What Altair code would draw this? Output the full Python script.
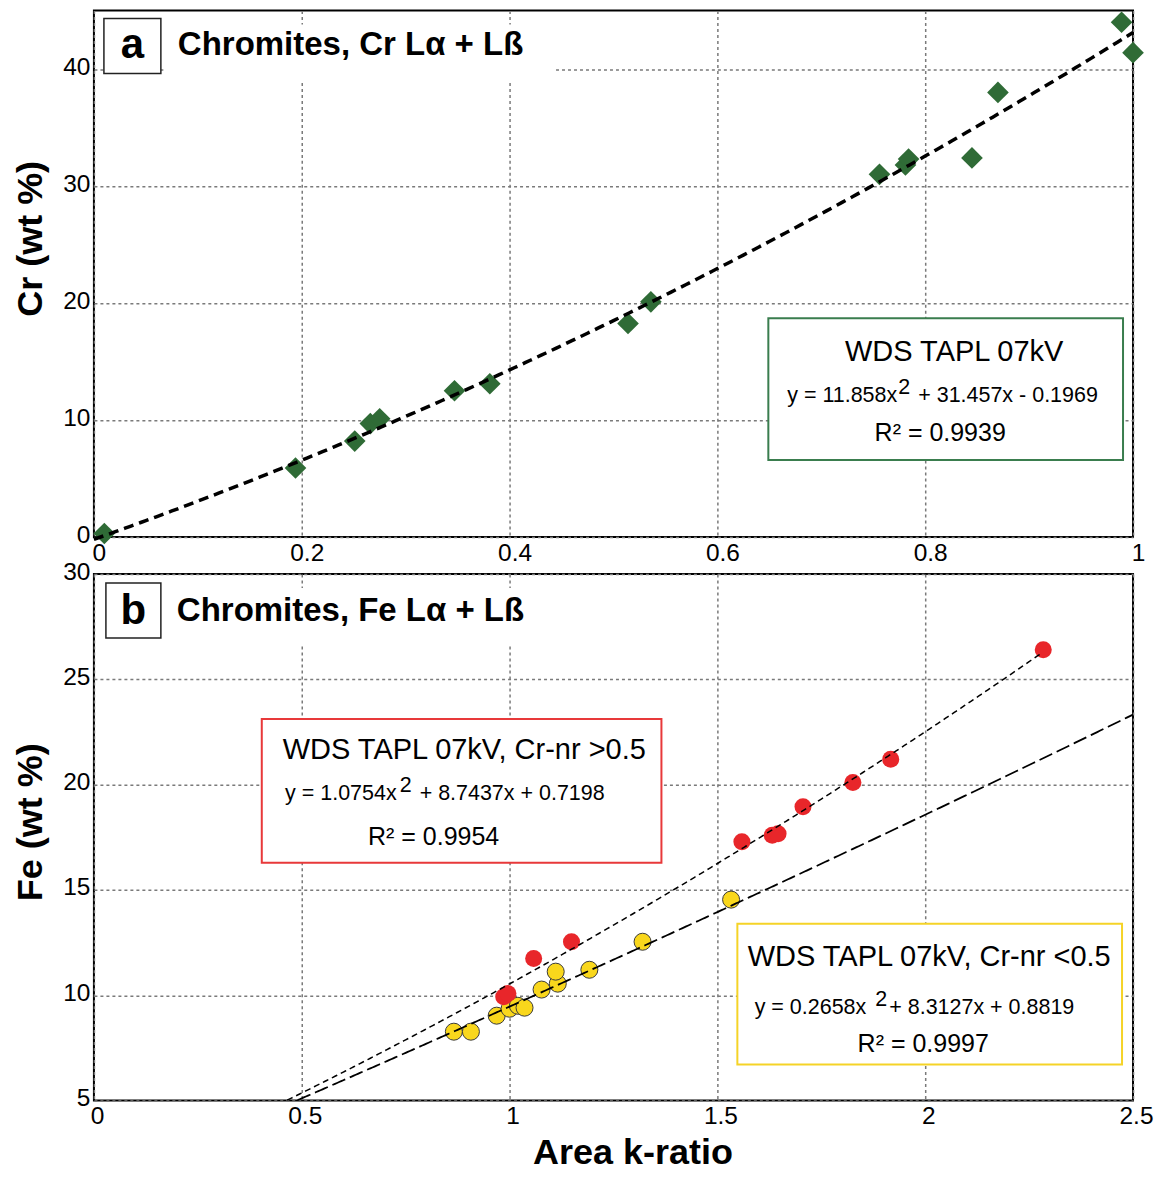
import altair as alt
import pandas as pd

# ---------------- data ----------------
# Panel a: chromites, Cr La + Lb
cr_kratio = [0.010, 0.194, 0.251, 0.266, 0.275, 0.347, 0.381, 0.514, 0.536,
             0.756, 0.781, 0.784, 0.845, 0.870, 0.989, 1.000]
cr_wt = [0.3, 5.9, 8.2, 9.7, 10.1, 12.5, 13.1, 18.25, 20.1,
         31.0, 31.8, 32.3, 32.4, 38.0, 44.0, 41.4]
cr_fit = [11.858, 31.457, -0.1969]          # y = a x^2 + b x + c
cr_fit_range = [0.0, 1.0]

# Panel b: chromites, Fe La + Lb
fe_hi_kratio = [0.986, 0.996, 1.058, 1.149, 1.559, 1.632, 1.646, 1.706, 1.826, 1.917, 2.284]
fe_hi_wt = [9.93, 10.08, 11.74, 12.54, 17.29, 17.6, 17.67, 18.95, 20.1, 21.2, 26.4]
fe_hi_fit = [1.0754, 8.7437, 0.7198]
fe_hi_range = [0.465, 2.284]

fe_lo_kratio = [0.866, 0.907, 0.969, 1.000, 1.020, 1.036, 1.077, 1.116, 1.111, 1.192, 1.320, 1.533]
fe_lo_wt = [8.27, 8.27, 9.03, 9.36, 9.50, 9.41, 10.27, 10.55, 11.12, 11.21, 12.54, 14.54]
fe_lo_fit = [0.2658, 8.3127, 0.8819]
fe_lo_range = [0.49, 2.5]

x_ticks_a = [0, 0.2, 0.4, 0.6, 0.8, 1.0]
y_ticks_a = [0, 10, 20, 30, 40]
x_ticks_b = [0, 0.5, 1, 1.5, 2, 2.5]
y_ticks_b = [5, 10, 15, 20, 25, 30]

FONT = "Liberation Sans"
W, H = 1040, 527
GREEN = "#2f6b36"
RED = "#e8262a"
YELLOW = "#f9d71c"


def axis(values, **kw):
    return alt.Axis(values=values, format="~g", grid=True, gridDash=[3, 3],
                    gridColor="#7a7a7a", gridWidth=1.5, ticks=False, domain=False,
                    labelFont=FONT, labelFontSize=24.5, labelColor="black",
                    labelFlush=False, labelOverlap=False,
                    titleFont=FONT, titleFontSize=36, titleFontWeight="bold",
                    titleColor="black", **kw)


def one():
    return alt.Chart(pd.DataFrame({"o": [0]}))


def text(s, x, y, size, align="center", baseline="middle", weight="normal"):
    return one().mark_text(font=FONT, fontSize=size, align=align, baseline=baseline,
                           fontWeight=weight, color="black").encode(
        x=alt.value(x), y=alt.value(y), text=alt.value(s))


def box(x0, y0, x1, y1, color, width=2):
    return one().mark_rect(fill="white", stroke=color, strokeWidth=width).encode(
        x=alt.value(x0), x2=alt.value(x1), y=alt.value(y0), y2=alt.value(y1))


def fit_line(coef, rng, dash, width):
    a, b, c = coef
    return alt.Chart(alt.sequence(rng[0], rng[1] + 1e-9, 0.005, as_="k")).transform_calculate(
        v=f"{a}*datum.k*datum.k + {b}*datum.k + {c}"
    ).mark_line(color="black", strokeDash=dash, strokeWidth=width)


# ---------------- panel a ----------------
xa = alt.Scale(domain=[0, 1], nice=False, zero=False)
ya = alt.Scale(domain=[0, 45], nice=False, zero=False)

df_a = pd.DataFrame({"k": cr_kratio, "cr": cr_wt})
pts_a = alt.Chart(df_a).mark_point(shape="diamond", filled=True, size=470,
                                   color=GREEN, opacity=1).encode(
    x=alt.X("k:Q", scale=xa, axis=axis(x_ticks_a, labelPadding=4, labelOffset=5), title=None),
    y=alt.Y("cr:Q", scale=ya, axis=axis(y_ticks_a, labelPadding=4, titlePadding=13,
                                        titleY=228, labelOffset=-2),
            title="Cr (wt %)"),
)
line_a = fit_line(cr_fit, cr_fit_range, [10, 6], 3.5).encode(
    x=alt.X("k:Q", scale=xa), y=alt.Y("v:Q", scale=ya))

panel_a = alt.layer(
    box(72, 14, 461, 70, "white", 0),
    box(10, 8, 67, 63, "#222222", 1.5),
    text("a", 38.5, 48, 42, baseline="alphabetic", weight="bold"),
    text("Chromites, Cr L\u03b1 + L\u00df", 84, 45, 33, align="left",
         baseline="alphabetic", weight="bold"),
    box(675, 308, 1030, 450, "#3a7d4e", 2),
    pts_a,
    line_a,
    text("WDS TAPL 07kV", 861, 342, 29),
    text("y = 11.858x", 804, 386, 21.5, align="right"),
    text("2", 811, 378, 21.5),
    text("+ 31.457x - 0.1969", 825, 386, 21.5, align="left"),
    text("R\u00b2 = 0.9939", 847, 423, 25),
).properties(width=W, height=H)

# ---------------- panel b ----------------
xb = alt.Scale(domain=[0, 2.5], nice=False, zero=False)
yb = alt.Scale(domain=[5, 30], nice=False, zero=False)

df_hi = pd.DataFrame({"k": fe_hi_kratio, "fe": fe_hi_wt})
df_lo = pd.DataFrame({"k": fe_lo_kratio, "fe": fe_lo_wt})

pts_lo = alt.Chart(df_lo).mark_circle(size=290, color=YELLOW, stroke="#3a3a3a",
                                      strokeWidth=1, opacity=1).encode(
    x=alt.X("k:Q", scale=xb,
            axis=axis(x_ticks_b, labelPadding=4, labelOffset=3, titlePadding=8, titleX=539),
            title="Area k-ratio"),
    y=alt.Y("fe:Q", scale=yb,
            axis=axis(y_ticks_b, labelPadding=4, titlePadding=13, titleY=248, labelOffset=-2),
            title="Fe (wt %)"),
)
pts_hi = alt.Chart(df_hi).mark_circle(size=290, color=RED, opacity=1).encode(
    x=alt.X("k:Q", scale=xb), y=alt.Y("fe:Q", scale=yb))
line_hi = fit_line(fe_hi_fit, fe_hi_range, [6, 4], 1.5).encode(
    x=alt.X("k:Q", scale=xb), y=alt.Y("v:Q", scale=yb))
line_lo = fit_line(fe_lo_fit, fe_lo_range, [14, 5], 1.8).encode(
    x=alt.X("k:Q", scale=xb), y=alt.Y("v:Q", scale=yb))

panel_b = alt.layer(
    box(68, 14, 458, 70, "white", 0),
    box(12, 9, 67, 64, "#222222", 1.5),
    text("b", 39.5, 50, 42, baseline="alphabetic", weight="bold"),
    text("Chromites, Fe L\u03b1 + L\u00df", 83, 47, 33, align="left",
         baseline="alphabetic", weight="bold"),
    box(168, 145, 568, 289, "#e8393a", 2),
    box(644, 350, 1029, 491, "#f5d327", 2),
    pts_lo,
    pts_hi,
    line_lo,
    line_hi,
    text("WDS TAPL 07kV, Cr-nr >0.5", 189, 176, 29, align="left"),
    text("y = 1.0754x", 303, 220, 21.5, align="right"),
    text("2", 312, 212, 21.5),
    text("+ 8.7437x + 0.7198", 326, 220, 21.5, align="left"),
    text("R\u00b2 = 0.9954", 340, 263, 25),
    text("WDS TAPL 07kV, Cr-nr <0.5", 836, 383, 29),
    text("y = 0.2658x", 773, 434, 21.5, align="right"),
    text("2", 788, 426, 21.5),
    text("+ 8.3127x + 0.8819", 796, 434, 21.5, align="left"),
    text("R\u00b2 = 0.9997", 830, 470, 25),
).properties(width=W, height=H)

chart = alt.vconcat(panel_a, panel_b, spacing=37, bounds="flush").properties(
    padding={"left": 3, "top": 1, "right": 0, "bottom": 0}
).configure_view(stroke="black", strokeWidth=2)

chart.save("out.html", embed_options={"renderer": "svg", "actions": False})
